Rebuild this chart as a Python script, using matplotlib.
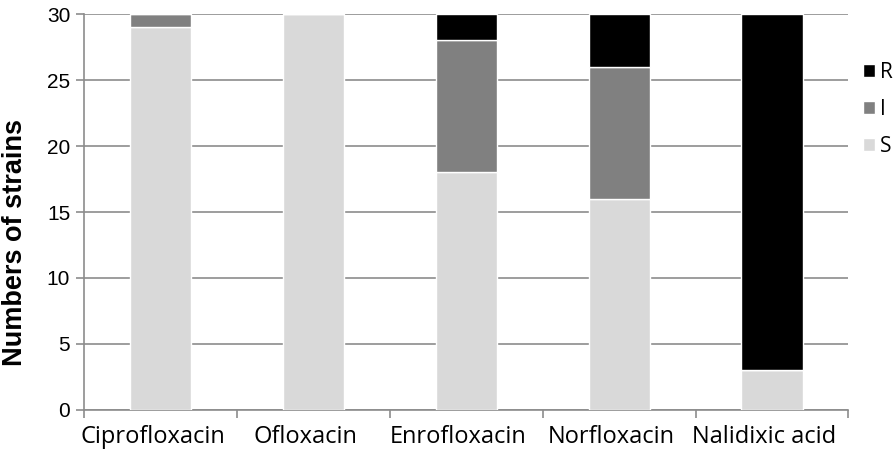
import matplotlib.pyplot as plt
import matplotlib.transforms as mtransforms
import numpy as np

drugs = ['Ciprofloxacin', 'Ofloxacin', 'Enrofloxacin', 'Norfloxacin', 'Nalidixic acid']
S = [29, 30, 18, 16, 3]
I = [1, 0, 10, 10, 0]
R = [0, 0, 2, 4, 27]

fig = plt.figure(figsize=(8.94, 4.54), dpi=100)
ax = fig.add_axes([0.094, 0.097, 0.855, 0.872])

x = np.arange(len(drugs))
width = 0.4
s_bars = ax.bar(x, S, width, color='#d9d9d9', edgecolor='white', linewidth=1, label='S', zorder=3)
i_bars = ax.bar(x, I, width, bottom=S, color='#808080', edgecolor='white', linewidth=1, label='I', zorder=3)
bottom_r = np.array(S) + np.array(I)
r_bars = ax.bar(x, R, width, bottom=bottom_r, color='black', edgecolor='white', linewidth=1, label='R', zorder=3)

ax.set_xlim(-0.5, len(drugs) - 0.5)
ax.set_ylim(0, 30)
ax.set_yticks(range(0, 31, 5))
ax.yaxis.grid(True, color='#8c8c8c', linewidth=1.2, zorder=0)

for sp in ['top', 'right']:
    ax.spines[sp].set_visible(False)
for sp in ['left', 'bottom']:
    ax.spines[sp].set_color('#8c8c8c')
    ax.spines[sp].set_linewidth(1.2)

# category labels centered, tick marks between categories
ax.set_xticks(x)
ax.set_xticklabels(drugs, fontsize=17, family='Open Sans')
ax.tick_params(axis='x', length=0, pad=10.5)
shift = mtransforms.ScaledTranslation(-8 / 100, 0, fig.dpi_scale_trans)
for t in ax.get_xticklabels():
    t.set_transform(t.get_transform() + shift)
ax.set_xticks(np.arange(-0.5, len(drugs)), minor=True)
ax.tick_params(axis='x', which='minor', length=6, color='#8c8c8c', width=1.2)
ax.tick_params(axis='y', length=6, color='#8c8c8c', width=1.2, labelsize=15, pad=4)
for t in ax.get_yticklabels():
    t.set_family('Liberation Sans')

ax.set_ylabel('Numbers of strains', fontsize=19.5, fontweight='bold', family='Liberation Sans',
              va='center')
ax.yaxis.set_label_coords(-0.09, 0.424)

handles = [r_bars, i_bars, s_bars]
leg = ax.legend(handles, ['R', 'I', 'S'], loc='upper left', bbox_to_anchor=(1.0, 0.915),
                frameon=False, fontsize=15, handlelength=0.58, handleheight=0.58,
                handletextpad=0.25, labelspacing=0.75, borderaxespad=0.3)
for t in leg.get_texts():
    t.set_family('Open Sans')

plt.savefig('out.png', dpi=100)
